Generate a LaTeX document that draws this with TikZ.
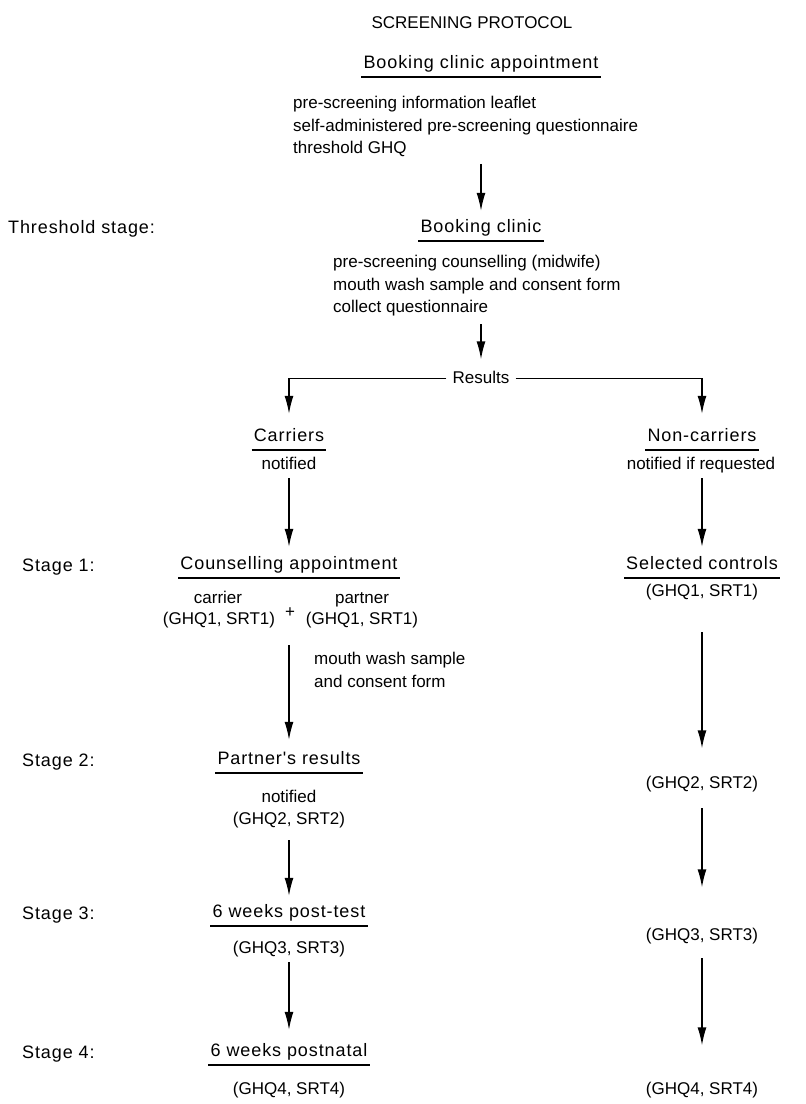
\documentclass[tikz,border=0pt]{standalone}
\usepackage{fontspec}
\setmainfont{Liberation Sans}
\newfontfamily\spacedfont[LetterSpace=5]{Liberation Sans}
\usetikzlibrary{arrows.meta,positioning}

\begin{document}
\begin{tikzpicture}[x=1pt,y=-1pt,
	every node/.style={font=\fontsize{17}{22.5}\selectfont,inner sep=0pt},
	one/.style={text height=12.5pt,text depth=4pt,anchor=base},
	head/.style={anchor=base,font=\spacedfont\fontsize{18}{23}\selectfont,text height=13.5pt,
		text depth=4.5pt,inner xsep=2pt,inner ysep=4.5pt},
	stage/.style={one,anchor=base west,font=\spacedfont\fontsize{18}{23}\selectfont},
	lines/.style={align=left,anchor=north west},
	flow/.style={line width=1.4pt,-{Latex[length=18pt,width=9pt]}},
	rule/.style={line width=1.5pt}]
	\useasboundingbox (0,0) rectangle (806,1104);
	% heading and threshold stage
	\node[one] (title) at (472,28) {SCREENING PROTOCOL};
	\node[head] (bca) at (481,68) {Booking clinic appointment};
	\node[lines] (leaflet) at (293,96) {pre-screening information leaflet\\
		self-administered pre-screening questionnaire\\threshold GHQ};
	\node[stage] (thr) at (8,233) {Threshold stage:};
	\node[head] (bc) at (481,232) {Booking clinic};
	\node[lines] (counsel) at (333,255) {pre-screening counselling (midwife)\\
		mouth wash sample and consent form\\collect questionnaire};
	\node[one,inner xsep=6pt] (res) at (481,383) {Results};
	% carriers
	\node[head] (car) at (289,441) {Carriers};
	\node[one] (carnote) at (289,469) {notified};
	\node[stage] (st1) at (22,571) {Stage 1:};
	\node[head] (capp) at (289,569) {Counselling appointment};
	\node[one] (carrier) at (218,603) {carrier};
	\node[one] (cghq1) at (219,624) {(GHQ1, SRT1)};
	\node[one] (plus) at (290,617) {+};
	\node[one] (partner) at (362,603) {partner};
	\node[one] (pghq1) at (362,624) {(GHQ1, SRT1)};
	\node[lines] (mouth) at (314,652) {mouth wash sample\\and consent form};
	\node[stage] (st2) at (22,766) {Stage 2:};
	\node[head] (pres) at (289,764) {Partner's results};
	\node[one] (presnote) at (289,802) {notified};
	\node[one] (cghq2) at (289,824) {(GHQ2, SRT2)};
	\node[stage] (st3) at (22,919) {Stage 3:};
	\node[head] (post) at (289,917) {6 weeks post-test};
	\node[one] (cghq3) at (289,953) {(GHQ3, SRT3)};
	\node[stage] (st4) at (22,1058) {Stage 4:};
	\node[head] (natal) at (289,1056) {6 weeks postnatal};
	\node[one] (cghq4) at (289,1094) {(GHQ4, SRT4)};
	% non-carriers
	\node[head] (ncar) at (702,441) {Non-carriers};
	\node[one] (ncarnote) at (701,469) {notified if requested};
	\node[head] (ctrl) at (702,569) {Selected controls};
	\node[one] (nghq1) at (702,596) {(GHQ1, SRT1)};
	\node[one] (nghq2) at (702,788) {(GHQ2, SRT2)};
	\node[one] (nghq3) at (702,940) {(GHQ3, SRT3)};
	\node[one] (nghq4) at (702,1094) {(GHQ4, SRT4)};

	\foreach \n in {bca,bc,car,ncar,capp,ctrl,pres,post,natal}
		\draw[rule] (\n.south west) -- (\n.south east);

	\draw[flow,shorten <=7pt,shorten >=3pt] (leaflet.south -| bc.north) -- (bc.north);
	\draw[flow,shorten <=8pt,shorten >=11pt] (counsel.south -| res.north) -- (res.north);
	\draw[flow,shorten >=9pt] (res.west) -| (car.north);
	\draw[flow,shorten >=9pt] (res.east) -| (ncar.north);
	\draw[flow,shorten <=5pt,shorten >=4pt] (carnote.south) -- (capp.north);
	\draw[flow,shorten <=5pt,shorten >=4pt] (ncarnote.south -| ncar.south) -- (ctrl.north);
	\draw[flow,shorten <=17pt,shorten >=6pt] (cghq1.south -| capp.south) -- (pres.north);
	\draw[flow,shorten <=32pt,shorten >=27pt] (nghq1.south) -- (nghq2.north);
	\draw[flow,shorten <=12pt,shorten >=3pt] (cghq2.south) -- (post.north);
	\draw[flow,shorten <=16pt,shorten >=40pt] (nghq2.south) -- (nghq3.north);
	\draw[flow,shorten <=5pt,shorten >=8pt] (cghq3.south) -- (natal.north);
	\draw[flow,shorten <=14pt,shorten >=36pt] (nghq3.south) -- (nghq4.north);
\end{tikzpicture}
\end{document}
